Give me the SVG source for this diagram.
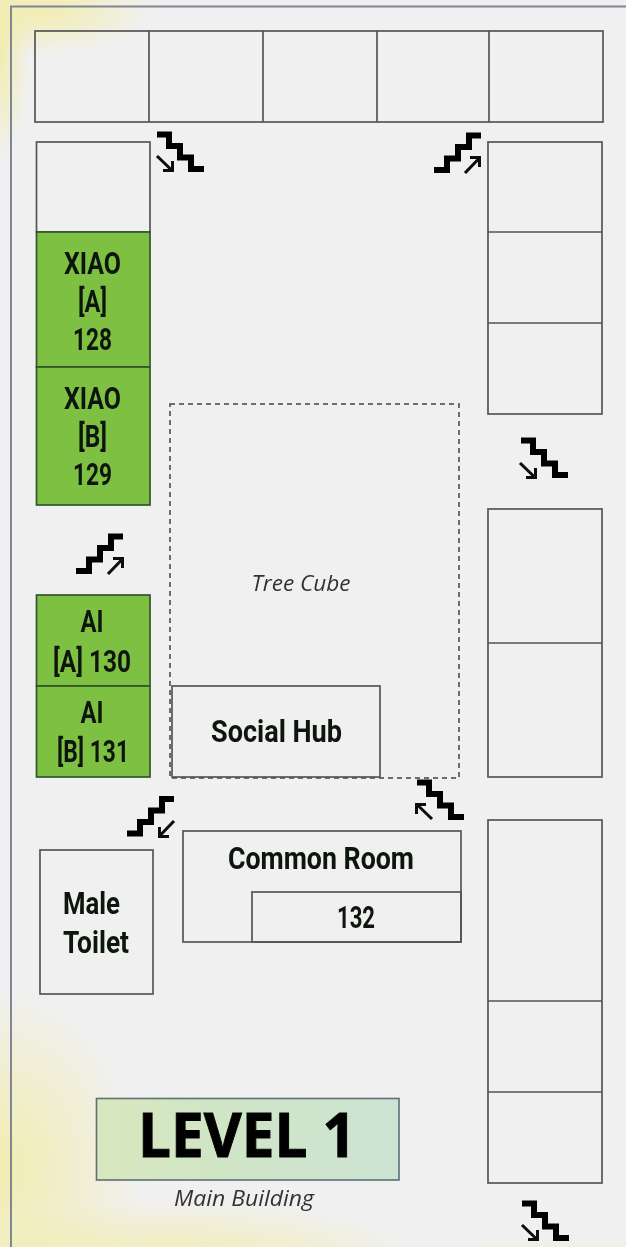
<svg xmlns="http://www.w3.org/2000/svg" xmlns:xlink="http://www.w3.org/1999/xlink" width="626" height="1247" viewBox="0 0 626 1247">
<style>
.room{fill:none;stroke:#555;stroke-width:1.7}
.green{fill:#7ec143;stroke:#33562a;stroke-width:1.7}
.lbl{font-family:"Roboto","Liberation Sans",sans-serif;font-weight:700;font-size:31px;fill:#111611;text-anchor:middle}
.it{font-family:"Open Sans","Liberation Sans",sans-serif;font-style:italic;fill:#333;text-anchor:middle}
.stair{fill:none;stroke:#000;stroke-width:6;stroke-linejoin:miter}
.arr{fill:none;stroke:#080808;stroke-width:3}
</style>
<defs>
<radialGradient id="y" cx="50%" cy="50%" r="50%"><stop offset="0" stop-color="#f2eca0" stop-opacity=".8"/><stop offset=".6" stop-color="#f2eca0" stop-opacity=".35"/><stop offset="1" stop-color="#f2eca0" stop-opacity="0"/></radialGradient>
<linearGradient id="lv" x1="0" x2="1" y1="0" y2="0"><stop offset="0" stop-color="#d8e7bd"/><stop offset=".5" stop-color="#cfe5c8"/><stop offset="1" stop-color="#cde4d4"/></linearGradient>
<filter id="soft" x="-2%" y="-2%" width="104%" height="104%"><feGaussianBlur stdDeviation="0.55"/></filter>
<path id="st" d="M0,0H12V11.5H23V23H34V34.5H47"/>
<path id="ar" d="M0,0L15,14.5M6,14.5H15.5V5"/>
</defs>
<rect width="626" height="1247" fill="#f0f0f0"/>
<g id="bg">
<ellipse cx="40" cy="10" rx="110" ry="45" fill="url(#y)"/>
<ellipse cx="0" cy="50" rx="30" ry="110" fill="url(#y)"/>
<ellipse cx="0" cy="1170" rx="140" ry="180" fill="url(#y)"/>
<ellipse cx="170" cy="1265" rx="260" ry="65" fill="url(#y)"/>
<ellipse cx="560" cy="1270" rx="180" ry="35" fill="url(#y)" opacity=".45"/>
</g>
<g filter="url(#soft)">
<path id="frame" d="M11,1247V6.500H626" fill="none" stroke="#7f8794" stroke-width="2"/>
<g id="top-row"><rect class="room" x="35" y="31" width="568" height="91"/><path class="room" d="M149,31V122M263,31V122M377,31V122M489,31V122"/></g>
<g id="left-blank"><rect class="room" x="36.500" y="142" width="113.500" height="90"/></g>
<g id="xiao-a"><rect class="green" x="36.500" y="232" width="113.500" height="135"/>
<text class="lbl" x="92.500" y="274" textLength="57" lengthAdjust="spacingAndGlyphs">XIAO</text>
<text class="lbl" x="92.500" y="312" textLength="29" lengthAdjust="spacingAndGlyphs">[A]</text>
<text class="lbl" x="92.500" y="350" textLength="39" lengthAdjust="spacingAndGlyphs">128</text></g>
<g id="xiao-b"><rect class="green" x="36.500" y="367" width="113.500" height="138"/>
<text class="lbl" x="92.500" y="409" textLength="57" lengthAdjust="spacingAndGlyphs">XIAO</text>
<text class="lbl" x="92.500" y="447" textLength="29" lengthAdjust="spacingAndGlyphs">[B]</text>
<text class="lbl" x="92.500" y="485" textLength="39" lengthAdjust="spacingAndGlyphs">129</text></g>
<g id="ai-a"><rect class="green" x="36.500" y="595" width="113.500" height="91"/>
<text class="lbl" x="92" y="632" textLength="23" lengthAdjust="spacingAndGlyphs">AI</text>
<text class="lbl" x="92" y="672" textLength="78" lengthAdjust="spacingAndGlyphs">[A] 130</text></g>
<g id="ai-b"><rect class="green" x="36.500" y="686" width="113.500" height="91"/>
<text class="lbl" x="92" y="723" textLength="23" lengthAdjust="spacingAndGlyphs">AI</text>
<text class="lbl" x="93" y="762" textLength="72" lengthAdjust="spacingAndGlyphs">[B] 131</text></g>
<g id="right-a"><rect class="room" x="488" y="142" width="114" height="272"/><path class="room" d="M488,232H602M488,323H602"/></g>
<g id="right-b"><rect class="room" x="488" y="509" width="114" height="268"/><path class="room" d="M488,643H602"/></g>
<g id="right-c"><rect class="room" x="488" y="820" width="114" height="363"/><path class="room" d="M488,1001H602M488,1092H602"/></g>
<g id="tree-cube"><rect x="170" y="404" width="289" height="374" fill="none" stroke="#444" stroke-width="1.5" stroke-dasharray="5 4"/>
<text class="it" x="301" y="591" font-size="21" textLength="99" lengthAdjust="spacingAndGlyphs">Tree Cube</text></g>
<g id="social-hub"><rect class="room" x="172" y="686" width="208" height="91"/>
<text class="lbl" x="276.500" y="742" textLength="131" lengthAdjust="spacingAndGlyphs">Social Hub</text></g>
<g id="common-room"><rect class="room" x="183" y="831" width="278" height="111"/>
<text class="lbl" x="321" y="869" textLength="186" lengthAdjust="spacingAndGlyphs">Common Room</text></g>
<g id="room-132"><rect class="room" x="252" y="892" width="209" height="50"/>
<text class="lbl" x="356" y="928" textLength="38" lengthAdjust="spacingAndGlyphs">132</text></g>
<g id="male-toilet"><rect class="room" x="40" y="850" width="113" height="144"/>
<text class="lbl" x="91.500" y="914" textLength="57" lengthAdjust="spacingAndGlyphs">Male</text>
<text class="lbl" x="96" y="953" textLength="66" lengthAdjust="spacingAndGlyphs">Toilet</text></g>
<g id="level-1"><rect x="96.500" y="1098.500" width="302.500" height="81.500" fill="url(#lv)" stroke="#5d6f78" stroke-width="1.6"/>
<text x="247" y="1157" font-family="Open Sans, Liberation Sans, sans-serif" font-weight="700" font-size="60" fill="#060606" stroke="#060606" stroke-width="1" text-anchor="middle" textLength="218" lengthAdjust="spacingAndGlyphs">LEVEL 1</text>
<text class="it" x="244" y="1206" font-size="21" textLength="140" lengthAdjust="spacingAndGlyphs">Main Building</text></g>
<g id="stairs">
<use xlink:href="#st" href="#st" class="stair" transform="translate(157,134.500)"/>
<use xlink:href="#ar" href="#ar" class="arr" transform="translate(157,156)"/>
<use xlink:href="#st" href="#st" class="stair" transform="translate(481,135.500) scale(-1,1)"/>
<use xlink:href="#ar" href="#ar" class="arr" transform="translate(465,173) rotate(-90)"/>
<use xlink:href="#st" href="#st" class="stair" transform="translate(521,440.500)"/>
<use xlink:href="#ar" href="#ar" class="arr" transform="translate(520,463)"/>
<use xlink:href="#st" href="#st" class="stair" transform="translate(123,536.500) scale(-1,1)"/>
<use xlink:href="#ar" href="#ar" class="arr" transform="translate(108,574) rotate(-90)"/>
<use xlink:href="#st" href="#st" class="stair" transform="translate(174,799) scale(-1,1)"/>
<use xlink:href="#ar" href="#ar" class="arr" transform="translate(174,821) rotate(90)"/>
<use xlink:href="#st" href="#st" class="stair" transform="translate(417,782.500)"/>
<use xlink:href="#ar" href="#ar" class="arr" transform="translate(432,819) rotate(180)"/>
<use xlink:href="#st" href="#st" class="stair" transform="translate(522,1203.500)"/>
<use xlink:href="#ar" href="#ar" class="arr" transform="translate(522,1225)"/>
</g>
</g>
</svg>
